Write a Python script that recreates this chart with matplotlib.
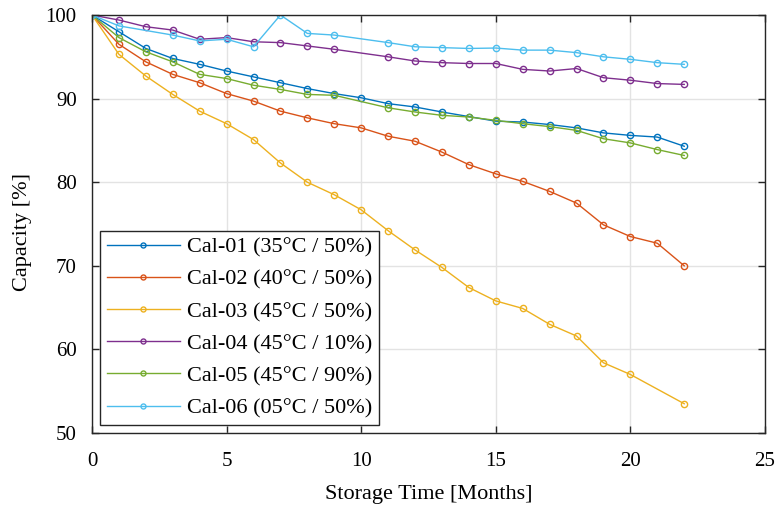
import matplotlib.pyplot as plt

plt.rcParams['font.family'] = ['Liberation Serif', 'DejaVu Serif']

months = list(range(23))

# None = month without a measurement
cal01 = [100, 98.0, 96.0, 94.8, 94.1, 93.3, 92.6, 91.9, 91.2, 90.6, 90.1, 89.4, 89.0,
         88.4, 87.85, 87.3, 87.2, 86.9, 86.5, 85.9, 85.6, 85.4, 84.3]
cal02 = [100, 96.5, 94.4, 92.9, 91.9, 90.6, 89.7, 88.5, 87.7, 87.0, 86.5, 85.5, 84.9,
         83.6, 82.1, 81.0, 80.1, 78.9, 77.5, 74.9, 73.5, 72.7, 70.0]
cal03 = [100, 95.3, 92.7, 90.5, 88.5, 87.0, 85.1, 82.3, 80.0, 78.5, 76.7, 74.2, 71.9,
         69.8, 67.4, 65.8, 64.9, 63.0, 61.6, 58.4, 57.0, None, 53.5]
cal04 = [100, 99.4, 98.6, 98.2, 97.1, 97.3, 96.8, 96.7, 96.3, 95.9, None, 95.0, 94.5,
         94.3, 94.2, 94.2, 93.5, 93.3, 93.6, 92.5, 92.2, 91.8, 91.7]
cal05 = [100, 97.3, 95.6, 94.4, 92.9, 92.4, 91.6, 91.1, 90.5, 90.4, None, 88.9, 88.4,
         88.0, 87.8, 87.4, 87.0, 86.65, 86.2, 85.2, 84.7, 83.9, 83.2]
cal06 = [100, 98.7, None, 97.6, 96.9, 97.1, 96.2, 100, 97.8, 97.6, None, 96.7, 96.2,
         96.1, 96.0, 96.05, 95.8, 95.8, 95.5, 95.0, 94.7, 94.3, 94.1]

labels = ['Cal-01 (35°C / 50%)', 'Cal-02 (40°C / 50%)', 'Cal-03 (45°C / 50%)',
          'Cal-04 (45°C / 10%)', 'Cal-05 (45°C / 90%)', 'Cal-06 (05°C / 50%)']
colors = ['#0072BD', '#D95319', '#EDB120', '#7E2F8E', '#77AC30', '#4DBEEE']

fig = plt.figure(figsize=(7.75, 5.09), dpi=100)
ax = fig.add_axes([0.1187, 0.1493, 0.8684, 0.8212])

for vals, lab, col in zip([cal01, cal02, cal03, cal04, cal05, cal06], labels, colors):
    xs = [m for m, v in zip(months, vals) if v is not None]
    ys = [v for v in vals if v is not None]
    ax.plot(xs, ys, '-o', color=col, lw=1.0, ms=4.5, mfc='none', mew=1.0, label=lab)

ax.set_xlim(0, 25)
ax.set_ylim(50, 100)
ax.set_xticks([0, 5, 10, 15, 20, 25])
ax.set_yticks([50, 60, 70, 80, 90, 100])
ax.grid(True, color='#e3e3e3', lw=1.0)
ax.set_axisbelow(True)
ax.tick_params(direction='in', top=True, right=True, length=5, width=1,
               color='#262626', labelsize=15)
ax.tick_params(axis='x', pad=14)
ax.tick_params(axis='y', pad=11)
for s in ax.spines.values():
    s.set_color('#262626')
    s.set_linewidth(1.0)

ax.set_xlabel('Storage Time [Months]', fontsize=16)
ax.set_ylabel('Capacity [%]', fontsize=16)
ax.xaxis.set_label_coords(0.5, -0.125)
ax.yaxis.set_label_coords(-0.089, 0.48)

leg = ax.legend(loc='lower left', fontsize=16, handlelength=3.3, markerscale=0.8,
                fancybox=False, edgecolor='#262626', framealpha=1,
                borderaxespad=0.36, labelspacing=0.52, handletextpad=0.3,
                borderpad=0.3)
leg.get_frame().set_linewidth(1.0)

fig.savefig('out.png', dpi=100)
